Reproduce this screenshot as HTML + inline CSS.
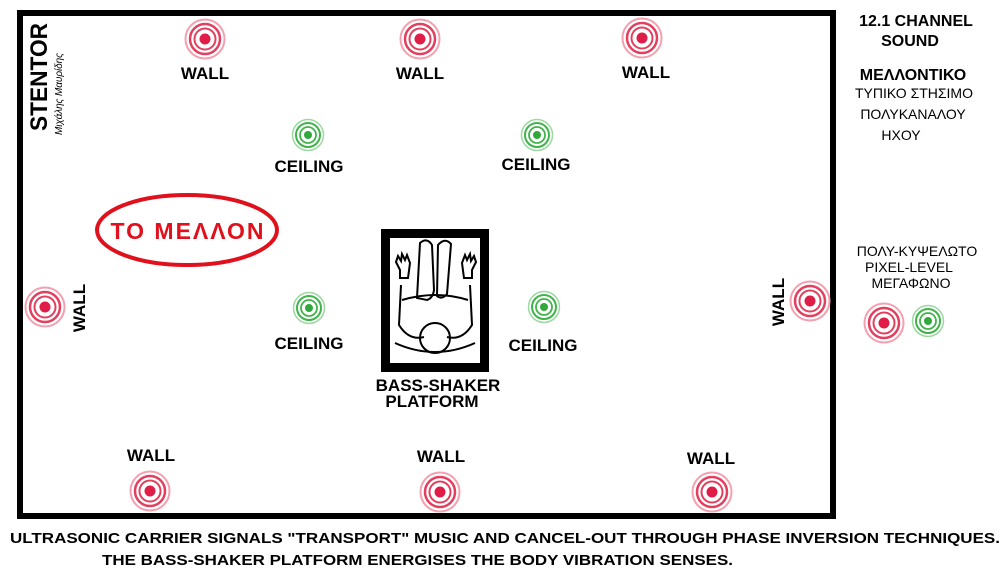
<!DOCTYPE html>
<html><head><meta charset="utf-8"><style>
body{margin:0;background:#fff;width:1006px;height:578px;overflow:hidden}
svg text{font-family:"Liberation Sans",sans-serif;font-weight:bold;fill:#000}
</style></head><body>
<svg width="1006" height="578" viewBox="0 0 1006 578">
<defs>
<g id="r">
<circle r="19.5" fill="none" stroke="#f3a0b0" stroke-width="2"/>
<circle r="15" fill="none" stroke="#e2405e" stroke-width="2.5"/>
<circle r="10.5" fill="none" stroke="#e2405e" stroke-width="2"/>
<circle r="5.5" fill="#e01c48"/>
</g>
<g id="g">
<circle r="15.5" fill="none" stroke="#9cd9a0" stroke-width="1.5"/>
<circle r="12" fill="none" stroke="#40b34a" stroke-width="2"/>
<circle r="8" fill="none" stroke="#40b34a" stroke-width="1.8"/>
<circle r="4" fill="#30a83c"/>
</g>
</defs>
<rect x="20" y="13" width="813" height="503" fill="none" stroke="#000" stroke-width="6"/>
<text transform="translate(47,131) rotate(-90)" font-size="24" textLength="108" lengthAdjust="spacingAndGlyphs" style="font-weight:900">STENTOR</text>
<text transform="translate(62,135) rotate(-90)" font-size="10" textLength="82" style="font-weight:normal;font-style:italic">Μιχάλης Μαυρίδης</text>

<use href="#r" x="205" y="39"/><use href="#r" x="420" y="39"/><use href="#r" x="642" y="38"/>
<use href="#r" x="45" y="307"/><use href="#r" x="810" y="301"/>
<use href="#r" x="150" y="491"/><use href="#r" x="440" y="492"/><use href="#r" x="712" y="492"/>
<use href="#r" x="884" y="323"/>
<use href="#g" x="308" y="135"/><use href="#g" x="537" y="135"/><use href="#g" x="309" y="308"/><use href="#g" x="544" y="307"/><use href="#g" x="928" y="321"/>

<g font-size="17" text-anchor="middle">
<text x="205" y="79">WALL</text><text x="420" y="79">WALL</text><text x="646" y="78">WALL</text>
<text x="309" y="172">CEILING</text><text x="536" y="170">CEILING</text>
<text x="309" y="349">CEILING</text><text x="543" y="351">CEILING</text>
<text x="151" y="461">WALL</text><text x="441" y="462">WALL</text><text x="711" y="464">WALL</text>
<text transform="translate(85,308) rotate(-90)">WALL</text>
<text transform="translate(784,302) rotate(-90)">WALL</text>
<text x="438" y="391">BASS-SHAKER</text>
<text x="432" y="407">PLATFORM</text>
<text x="916" y="26" font-size="16">12.1 CHANNEL</text>
<text x="910" y="46" font-size="16">SOUND</text>
<text x="913" y="80" font-size="16">ΜΕΛΛΟΝΤΙΚΟ</text>
</g>
<g font-size="14" text-anchor="middle">
<text x="914" y="98" style="font-weight:normal">ΤΥΠΙΚΟ ΣΤΗΣΙΜΟ</text>
<text x="913" y="119" style="font-weight:normal">ΠΟΛΥΚΑΝΑΛΟΥ</text>
<text x="901" y="140" style="font-weight:normal">ΗΧΟΥ</text>
<text x="917" y="256" style="font-weight:normal">ΠΟΛΥ-ΚΥΨΕΛΩΤΟ</text>
<text x="909" y="272" style="font-weight:normal">PIXEL-LEVEL</text>
<text x="911" y="288" style="font-weight:normal">ΜΕΓΑΦΩΝΟ</text>
</g>

<ellipse cx="187" cy="230" rx="90" ry="35" fill="none" stroke="#e0101c" stroke-width="4"/>
<text x="187" y="239" font-size="23" text-anchor="middle" textLength="153" style="fill:#e0101c">ΤΟ ΜΕΛΛΟΝ</text>

<rect x="385.5" y="233.5" width="99" height="134" fill="#fff" stroke="#000" stroke-width="9"/>
<g fill="none" stroke="#000" stroke-width="2">
<path d="M420 243 q7 -6 12 2 l2 45 q-1 8 -7 10 l-10 -2 z"/>
<path d="M438 245 q7 -8 13 -1 l-4 50 q-5 6 -10 2 z"/>
<path d="M400 270 l-4 -8 2 -6 3 5 1 -7 3 6 2 -5 3 8 -2 15 h-8 z"/>
<path d="M472 270 l4 -8 -2 -6 -3 5 -1 -7 -3 6 -2 -5 -3 8 2 15 h8 z"/>
<path d="M401 285 l-2 40 q10 16 25 12 M470 285 l2 40 q-10 16 -25 12"/>
<path d="M402 300 q34 -10 66 0"/>
<circle cx="435" cy="338" r="15"/>
<path d="M395 343 q40 18 80 0"/>
</g>

<text x="10" y="543" font-size="15" textLength="990" lengthAdjust="spacingAndGlyphs">ULTRASONIC CARRIER SIGNALS "TRANSPORT" MUSIC AND CANCEL-OUT THROUGH PHASE INVERSION TECHNIQUES.</text>
<text x="102" y="565" font-size="15" textLength="631" lengthAdjust="spacingAndGlyphs">THE BASS-SHAKER PLATFORM ENERGISES THE  BODY VIBRATION SENSES.</text>
</svg>
</body></html>
